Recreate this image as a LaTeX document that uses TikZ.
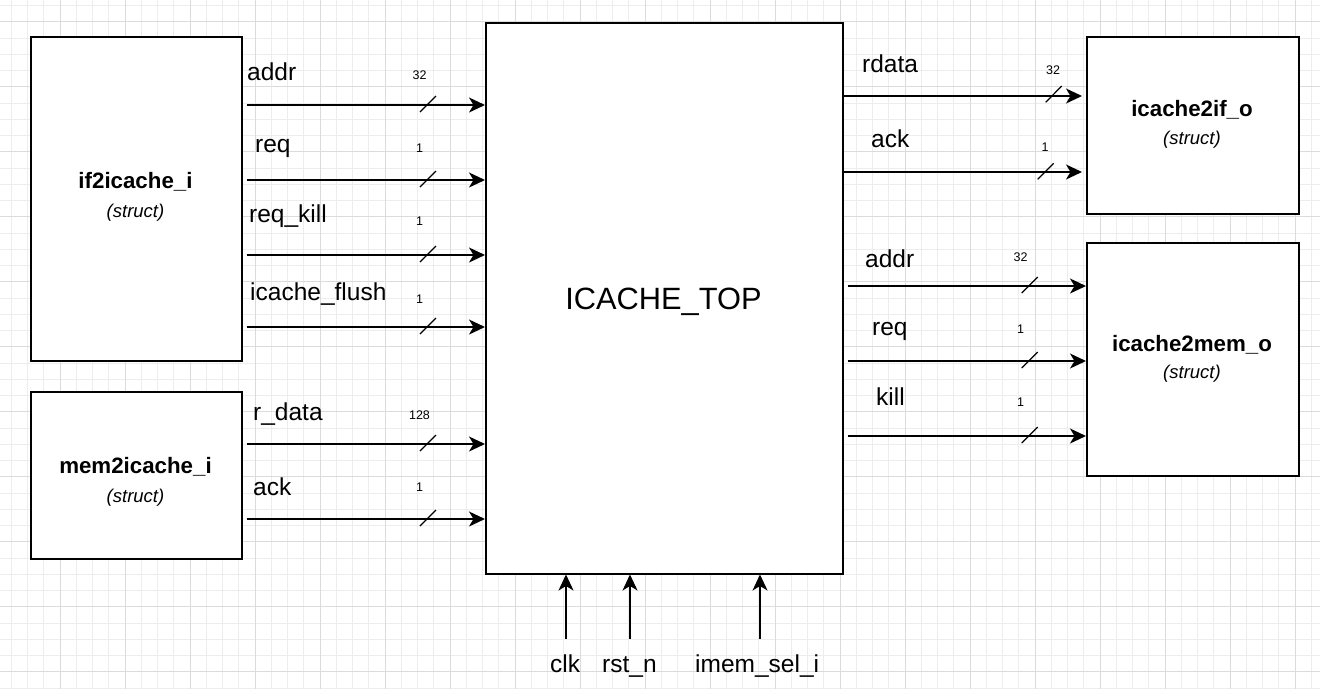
\documentclass[tikz,border=0pt]{standalone}
\usepackage{fontspec}
\setmainfont{Liberation Sans}
\usetikzlibrary{arrows.meta,calc}
\begin{document}
\begin{tikzpicture}[x=1pt,y=-1pt,
  blk/.style={draw=black, line width=1.5pt, fill=white, inner sep=0pt, anchor=north west},
  sig/.style={line width=1.6pt, -{Stealth[length=16pt,width=15pt,inset=4.5pt]}},
  slashln/.style={line width=1.2pt},
  lbl/.style={font=\fontsize{24.5}{28}\selectfont, anchor=base west, inner sep=0pt},
  num/.style={font=\fontsize{12.5}{14}\selectfont, inner sep=0pt},
  ttl/.style={font=\bfseries\fontsize{22.3}{26}\selectfont, anchor=base, inner sep=0pt},
  stc/.style={font=\itshape\fontsize{18.5}{22}\selectfont, anchor=base, inner sep=0pt},
  minorgrid/.style={draw=black!7, line width=0.8pt},
  majorgrid/.style={draw=black!14, line width=0.8pt}]
\useasboundingbox (0,0) rectangle (1320,689);
\fill[white] (0,0) rectangle (1320,689);
% grid
\foreach \x in {11.25,27.5,...,1320} \draw[minorgrid] (\x,0) -- (\x,689);
\foreach \y in {5.45,21.7,...,689} \draw[minorgrid] (0,\y) -- (1320,\y);
\foreach \x in {60,125,...,1320} \draw[majorgrid] (\x,0) -- (\x,689);
\foreach \y in {21.7,86.7,...,689} \draw[majorgrid] (0,\y) -- (1320,\y);

% boxes
\node[blk, minimum width=211pt, minimum height=324pt] (ifb) at (30,36) {};
\node[blk, minimum width=211pt, minimum height=167pt] (memb) at (30,391) {};
\node[blk, minimum width=357pt, minimum height=551pt] (top) at (485,22) {};
\node[blk, minimum width=212pt, minimum height=177pt] (ifo) at (1086,36) {};
\node[blk, minimum width=212pt, minimum height=233pt] (memo) at (1086,242) {};

% box texts
\node[ttl] (ifbt) at (135.5,188) {if2icache\_i};
\node[stc] (ifbs) at (135.5,217) {(struct)};
\node[ttl] (membt) at (135.5,473) {mem2icache\_i};
\node[stc] (membs) at (135.5,502) {(struct)};
\node[ttl] (ifot) at (1192,116) {icache2if\_o};
\node[stc] (ifos) at (1192,144) {(struct)};
\node[ttl] (memot) at (1192,351) {icache2mem\_o};
\node[stc] (memos) at (1192,378) {(struct)};
\node[font=\fontsize{30.8}{34}\selectfont, anchor=base, inner sep=0pt] (topt) at (663.5,309) {ICACHE\_TOP};

% left inputs
\foreach \n/\yy/\lx/\ly/\txt/\w/\ny in {
  a/105/247/80/addr/32/75,
  b/180/255/152/req/1/148,
  c/255/249/222/req\_kill/1/221,
  d/327/250/300/icache\_flush/1/299,
  e/444/253/420.5/r\_data/128/415,
  f/519/253/495/ack/1/487}{
  \coordinate (y\n) at (0,\yy);
  \draw[sig] ($(ifb.east|-y\n)+(4,0)$) -- (top.west|-y\n);
  \coordinate (s\n) at (428,\yy-1);
  \draw[slashln] ($(s\n)+(-8,8)$) -- ($(s\n)+(8,-8)$);
  \node[lbl] (L\n) at (\lx,\ly) {\txt};
  \node[num] (N\n) at (419.5,\ny) {\w};
}

% right outputs to icache2if_o
\coordinate (yg) at (0,96);
\draw[sig] (top.east|-yg) -- ($(ifo.west|-yg)+(-4,0)$);
\draw[slashln] (1045.7,102.3) -- (1061.7,86);
\node[lbl] (Lg) at (862,72) {rdata};
\node[num] (Ng) at (1053,70.5) {32};

\coordinate (yh) at (0,172);
\draw[sig] (top.east|-yh) -- ($(ifo.west|-yh)+(-4,0)$);
\draw[slashln] (1037.7,179.3) -- (1053.7,163.3);
\node[lbl] (Lh) at (871,147) {ack};
\node[num] (Nh) at (1045,147.5) {1};

% right outputs to icache2mem_o
\foreach \n/\yy/\lx/\ly/\txt/\w/\ny in {
  i/286/865/267/addr/32/257.3,
  j/361/872/335/req/1/329.3,
  k/436/876/405/kill/1/402.3}{
  \coordinate (y\n) at (0,\yy);
  \draw[sig] ($(top.east|-y\n)+(4,0)$) -- (memo.west|-y\n);
  \coordinate (s\n) at (1029.7,\yy-1);
  \draw[slashln] ($(s\n)+(-8,8)$) -- ($(s\n)+(8,-8)$);
  \node[lbl] (L\n) at (\lx,\ly) {\txt};
  \node[num] (N\n) at (1020.5,\ny) {\w};
}

% bottom inputs
\node[lbl] (clk) at (550,672) {clk};
\node[lbl] (rst) at (602,672) {rst\_n};
\node[lbl] (imem) at (695,672) {imem\_sel\_i};
\coordinate (clkin) at (566,638.5);
\coordinate (rstin) at (630,638.5);
\coordinate (imemin) at (760,638.5);
\draw[sig] (clkin) -- (top.south-|clkin);
\draw[sig] (rstin) -- (top.south-|rstin);
\draw[sig] (imemin) -- (top.south-|imemin);
\end{tikzpicture}
\end{document}
